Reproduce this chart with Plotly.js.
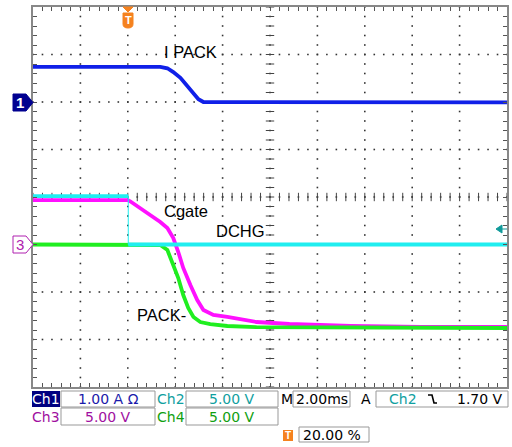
<!DOCTYPE html>
<html><head><meta charset="utf-8">
<script src="https://cdn.plot.ly/plotly-3.0.1.min.js"></script>
<style>html,body{margin:0;padding:0;background:#fff}#plot{width:512px;height:447px}</style>
</head><body><div id="plot"></div>
<script>
// Channel 1: I PACK (A), 1.00 A/div, ground at division 6
const ch1Time = [-4, 1.37, 1.67, 1.92, 2.22, 2.51, 2.77, 2.98, 3.19, 16];
const ch1Amp  = [0.74, 0.74, 0.71, 0.63, 0.51, 0.34, 0.17, 0.06, 0.0, -0.01];
// Channel 2: DCHG (V), 5.00 V/div, ground at division 3
const ch2Time = [-4, 0.02, 0.02, 16];
const ch2Volt = [5.1, 5.1, 0.0, 0.0];
// Channel 3: Cgate (V), 5.00 V/div, ground at division 3
const ch3Time = [-4, 0, 0.10, 0.52, 0.95, 1.37, 1.67, 1.92, 2.13, 2.34, 2.64, 2.93, 3.19, 3.61, 4.20, 5.43, 6.82, 9.40, 12.36, 16];
const ch3Volt = [4.68, 4.68, 4.55, 3.84, 3.11, 2.37, 1.74, 0.68, -0.79, -2.47, -4.26, -5.84, -6.89, -7.42, -7.63, -8.16, -8.37, -8.58, -8.68, -8.68];
// Channel 4: PACK- (V), 5.00 V/div, ground at division 3
const ch4Time = [-4, 1.37, 1.67, 1.92, 2.13, 2.34, 2.55, 2.77, 3.06, 3.48, 4.20, 5.43, 16];
const ch4Volt = [0, -0.05, -0.58, -2.16, -3.53, -5.32, -6.68, -7.63, -8.16, -8.37, -8.58, -8.70, -8.79];

const labels = ["I PACK", "Cgate", "DCHG", "PACK-"];
const chNames = ["Ch1", "Ch2", "Ch3", "Ch4"];
const chScales = ["1.00 A \u03A9", "5.00 V", "5.00 V", "5.00 V"];
const timeBase = "2.00ms";
const trigText = "1.70 V";
const trigPos = "20.00 %";

// scope settings (offset in divisions, units per division)
const ch1Off = 6, ch1Sc = 1;
const chOff = 3, chSc = 5;
const toDiv = (arr, off, sc) => arr.map(v => off + v / sc);

const L = 33, R = 507, T = 7, B = 387;
const xp = px => (px - L) / (R - L);
const yp = py => (B - py) / (B - T);
const P = (px, py) => xp(px) + ',' + yp(py);

// graticule
const gx = [], gy = [];
for (let k = 1; k <= 9; k++) { const t = -4 + 2 * k; for (let j = 0; j <= 40; j++) { gx.push(t); gy.push(j * 0.2); } }
for (let m = 1; m <= 7; m++) { for (let j = 0; j <= 50; j++) { gx.push(-4 + j * 0.4); gy.push(m); } }
const hx = [], hy = [], vx = [], vy = [];
for (let j = 0; j <= 50; j++) { hx.push(-4 + j * 0.4); hy.push(4); }
for (let j = 0; j <= 40; j++) { vx.push(6); vy.push(j * 0.2); }

// ch2: thick noisy levels, thin vertical edge (split at the step)
const ch2Div = toDiv(ch2Volt, chOff, chSc);
const ch2ThickX = [], ch2ThickY = [];
ch2Time.forEach((t, i) => {
  if (i > 0 && t === ch2Time[i - 1]) { ch2ThickX.push(null); ch2ThickY.push(null); }
  ch2ThickX.push(t); ch2ThickY.push(ch2Div[i]);
});

const traces = [
  {x: gx, y: gy, mode: 'markers', marker: {symbol: 'square', size: 1.6, color: '#333'}, hoverinfo: 'skip'},
  {x: hx, y: hy, mode: 'markers', marker: {symbol: 'line-ns', size: 6, line: {width: 1, color: '#444'}}, hoverinfo: 'skip'},
  {x: vx, y: vy, mode: 'markers', marker: {symbol: 'line-ew', size: 6, line: {width: 1, color: '#444'}}, hoverinfo: 'skip'},
  {x: ch3Time, y: toDiv(ch3Volt, chOff, chSc), mode: 'lines', line: {color: '#ff10ff', width: 3.8}, hoverinfo: 'skip'},
  {x: ch4Time, y: toDiv(ch4Volt, chOff, chSc), mode: 'lines', line: {color: '#20ee20', width: 3.8}, hoverinfo: 'skip'},
  {x: ch2Time, y: ch2Div, mode: 'lines', line: {color: '#20eef0', width: 1}, hoverinfo: 'skip'},
  {x: ch2ThickX, y: ch2ThickY, mode: 'lines', connectgaps: false, line: {color: '#20eef0', width: 3.8}, hoverinfo: 'skip'},
  {x: ch1Time, y: toDiv(ch1Amp, ch1Off, ch1Sc), mode: 'lines', line: {color: '#1020e8', width: 3.8}, hoverinfo: 'skip'}
];

const boxLine = {color: '#999', width: 1};
const shapes = [
  {type: 'path', xref: 'paper', yref: 'paper', path: `M${P(13,94)} L${P(26,94)} L${P(33,102.5)} L${P(26,111)} L${P(13,111)} Z`, fillcolor: '#000090', line: {color: '#000090', width: 1}},
  {type: 'path', xref: 'paper', yref: 'paper', path: `M${P(13,236)} L${P(26,236)} L${P(33,244.5)} L${P(26,253)} L${P(13,253)} Z`, fillcolor: '#ffffff', line: {color: '#b020b0', width: 1}},
  {type: 'path', xref: 'paper', yref: 'paper', path: `M${P(496,229)} L${P(502,225)} L${P(502,233)} Z`, fillcolor: '#109a9a', line: {color: '#109a9a', width: 1}},
  {type: 'line', xref: 'paper', yref: 'paper', x0: xp(500), x1: xp(507), y0: yp(229), y1: yp(229), line: {color: '#109a9a', width: 1}},
  {type: 'path', xref: 'paper', yref: 'paper', path: `M${P(123,7)} L${P(133,7)} L${P(128,12)} Z`, fillcolor: '#f5821f', line: {color: '#f5821f', width: 1}},
  {type: 'path', xref: 'paper', yref: 'paper', path: `M${P(123,13)} L${P(133,13)} L${P(133,24)} Q${P(133,28)} ${P(128,28)} Q${P(123,28)} ${P(123,24)} Z`, fillcolor: '#f5821f', line: {color: '#f5821f', width: 1}},
  {type: 'rect', xref: 'paper', yref: 'paper', x0: xp(32), x1: xp(60), y0: yp(391), y1: yp(407), fillcolor: '#000080', line: {width: 0}},
  {type: 'rect', xref: 'paper', yref: 'paper', x0: xp(61), x1: xp(155), y0: yp(391), y1: yp(407), line: boxLine},
  {type: 'rect', xref: 'paper', yref: 'paper', x0: xp(186), x1: xp(278), y0: yp(391), y1: yp(407), line: boxLine},
  {type: 'rect', xref: 'paper', yref: 'paper', x0: xp(293), x1: xp(350), y0: yp(391), y1: yp(407), line: boxLine},
  {type: 'rect', xref: 'paper', yref: 'paper', x0: xp(376), x1: xp(508), y0: yp(391), y1: yp(407), line: boxLine},
  {type: 'rect', xref: 'paper', yref: 'paper', x0: xp(61), x1: xp(155), y0: yp(408), y1: yp(425), line: boxLine},
  {type: 'rect', xref: 'paper', yref: 'paper', x0: xp(186), x1: xp(278), y0: yp(408), y1: yp(425), line: boxLine},
  {type: 'rect', xref: 'paper', yref: 'paper', x0: xp(299), x1: xp(369), y0: yp(427), y1: yp(442), line: boxLine},
  {type: 'rect', xref: 'paper', yref: 'paper', x0: xp(283), x1: xp(293), y0: yp(430), y1: yp(441), fillcolor: '#f5821f', line: {width: 0}},
  {type: 'path', xref: 'paper', yref: 'paper', path: `M${P(428,395)} L${P(432,395)} L${P(434,403)} L${P(437,403)}`, line: {color: '#000', width: 1.6}}
];

const sf = 'DejaVu Sans, Verdana, sans-serif';
const ann = (px, py, text, color, size, anchor, fam, bold) => ({
  xref: 'paper', yref: 'paper', x: xp(px), y: yp(py), text: bold ? '<b>' + text + '</b>' : text, showarrow: false,
  xanchor: anchor || 'center', yanchor: 'middle', font: {family: fam || sf, size: size || 13, color: color}
});
const lf = 'Liberation Sans, Arial, sans-serif';
const annotations = [
  ann(190, 52, labels[0], '#000', 16.5, 'center', lf),
  ann(186, 211, labels[1], '#000', 16.5, 'center', lf),
  ann(240, 231, labels[2], '#000', 16.5, 'center', lf),
  ann(161, 315, labels[3], '#000', 16.5, 'center', lf),
  ann(20, 102.5, '1', '#fff', 15, 'center', lf, true),
  ann(20, 244.5, '3', '#b020b0', 15, 'center', lf),
  ann(128, 20, 'T', '#fff', 11, 'center', lf, true),
  ann(288, 435.5, 'T', '#fff', 10, 'center', lf, true),
  ann(46, 399, chNames[0], '#fff', 14, 'center'),
  ann(108, 399, chScales[0], '#1a1aaa', 14, 'center'),
  ann(171, 399, chNames[1], '#10a0a0', 14, 'center'),
  ann(232, 399, chScales[1], '#10a0a0', 14, 'center'),
  ann(287, 399, 'M', '#000', 14, 'center'),
  ann(322, 399, timeBase, '#000', 14, 'center'),
  ann(366, 399, 'A', '#000', 14, 'center'),
  ann(403, 399, chNames[1], '#10a0a0', 14, 'center'),
  ann(505, 399, trigText, '#000', 14, 'right'),
  ann(46, 417, chNames[2], '#a010a0', 14, 'center'),
  ann(108, 417, chScales[2], '#a010a0', 14, 'center'),
  ann(171, 417, chNames[3], '#10a010', 14, 'center'),
  ann(232, 417, chScales[3], '#10a010', 14, 'center'),
  ann(301, 435, trigPos, '#000', 14, 'left')
];

const axisCommon = {showgrid: false, zeroline: false, showticklabels: false, ticks: 'inside', ticklen: 4, tickcolor: '#555', tickwidth: 1,
  showline: true, linecolor: '#888', linewidth: 2, mirror: 'ticks', fixedrange: true};

const layout = {
  width: 512, height: 447, showlegend: false,
  margin: {l: L, r: 512 - R, t: T, b: 447 - B, pad: 0},
  paper_bgcolor: '#fff', plot_bgcolor: '#fff',
  xaxis: Object.assign({range: [-4, 16], tick0: -4, dtick: 0.4}, axisCommon),
  yaxis: Object.assign({range: [0, 8], tick0: 0, dtick: 0.2}, axisCommon),
  shapes: shapes, annotations: annotations
};

Plotly.newPlot('plot', traces, layout, {staticPlot: true, displayModeBar: false});
</script>
</body></html>
